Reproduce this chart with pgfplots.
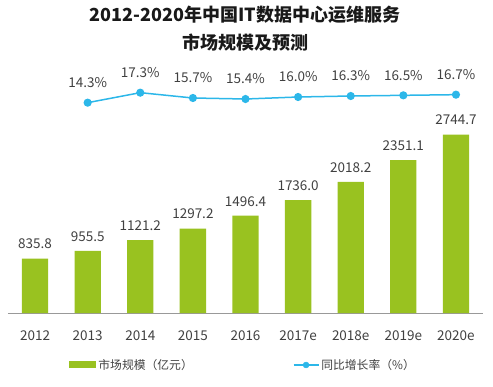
\documentclass[border=0pt]{standalone}
\usepackage{pgfplots}
\pgfplotsset{compat=1.18}
\usepackage{fontspec}
\setmainfont{Noto Sans CJK SC}
\definecolor{barg}{RGB}{153,194,32}
\definecolor{linec}{RGB}{44,183,233}
\definecolor{txt}{RGB}{64,64,64}
\definecolor{ttl}{RGB}{25,25,25}
\begin{document}
\begin{tikzpicture}
\useasboundingbox (-8pt,-73pt) rectangle (485pt,313pt);
\node[font=\fontsize{18}{20}\selectfont\bfseries, text=ttl] at (237pt,298pt) {2012-2020年中国IT数据中心运维服务};
\node[font=\fontsize{18}{20}\selectfont\bfseries, text=ttl] at (237pt,270pt) {市场规模及预测};
\begin{axis}[
  at={(0pt,0pt)}, anchor=south west,
  width=475pt, height=253pt, scale only axis,
  xmin=-0.514, xmax=8.514, ymin=0, ymax=3892,
  axis y line=none, axis x line*=bottom,
  x axis line style={draw=black!40, line width=0.8pt, -},
  xtick={0,...,8},
  xticklabels={2012,2013,2014,2015,2016,2017e,2018e,2019e,2020e},
  major tick length=0pt,
  ytick=\empty,
  xticklabel style={font=\fontsize{13.5}{15}\selectfont, text=txt, yshift=-14pt},
  ybar, bar width=0.5,
  nodes near coords,
  /pgf/number format/assume math mode=true,
  /pgf/number format/fixed, /pgf/number format/fixed zerofill,
  /pgf/number format/precision=1, /pgf/number format/1000 sep={},
  nodes near coords style={font=\fontsize{13.5}{15}\selectfont, text=txt, yshift=6pt},
  legend columns=2,
  legend style={at={(0.495,-0.2055)}, anchor=center, draw=none, fill=none,
    font=\fontsize{11.8}{13}\selectfont, text=txt,
    /tikz/every even column/.append style={column sep=98pt},
    inner sep=0pt, nodes={inner xsep=2pt}},
  legend cell align=left,
]
\addplot[fill=barg, draw=none,
  legend image code/.code={\fill[barg] (0pt,-3.5pt) rectangle (27pt,3.5pt);}]
  coordinates {(0,835.8) (1,955.5) (2,1121.2) (3,1297.2) (4,1496.4) (5,1736.0) (6,2018.2) (7,2351.1) (8,2744.7)};
\addlegendentry{市场规模（亿元）}
\addlegendimage{legend image code/.code={\draw[linec, line width=1.5pt] (0pt,0pt) -- (25pt,0pt); \fill[linec] (12.5pt,0pt) circle (3pt);}}
\addlegendentry{同比增长率（\%）}
\end{axis}
\begin{axis}[
  at={(0pt,0pt)}, anchor=south west,
  width=475pt, height=253pt, scale only axis,
  xmin=-0.514, xmax=8.514, ymin=-48.8, ymax=27.1,
  axis lines=none, xtick=\empty, ytick=\empty,
  /pgf/number format/assume math mode=true,
  /pgf/number format/fixed, /pgf/number format/fixed zerofill,
  /pgf/number format/precision=1,
]
\addplot[linec, line width=1.5pt, mark=*, mark size=3.3pt,
  nodes near coords={\pgfmathprintnumber{\pgfplotspointmeta}\%},
  nodes near coords style={font=\fontsize{13.5}{15}\selectfont, text=txt, yshift=11pt}]
  coordinates {(1,14.3) (2,17.3) (3,15.7) (4,15.4) (5,16.0) (6,16.3) (7,16.5) (8,16.7)};
\end{axis}
\end{tikzpicture}
\end{document}
